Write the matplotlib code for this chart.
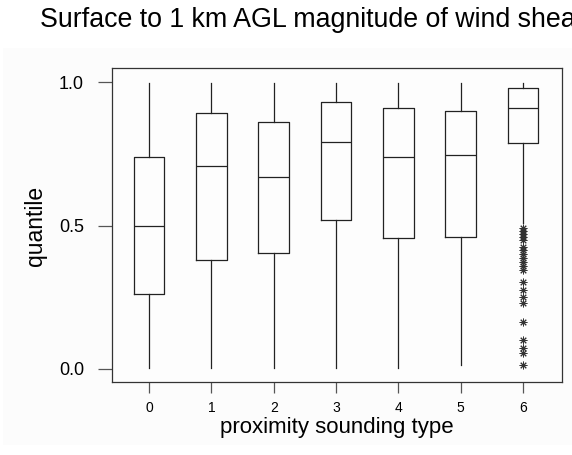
import matplotlib
matplotlib.use("Agg")
import matplotlib.pyplot as plt
from matplotlib.patches import Rectangle

plt.rcParams['font.family'] = ['Liberation Sans', 'DejaVu Sans']

# ---- data ----
categories = ["0", "1", "2", "3", "4", "5", "6"]
whisker_low = [0.003, 0.003, 0.003, 0.003, 0.003, 0.013, 0.508]
q1 = [0.260, 0.380, 0.403, 0.520, 0.455, 0.459, 0.787]
median = [0.500, 0.708, 0.668, 0.790, 0.739, 0.745, 0.908]
q3 = [0.740, 0.891, 0.860, 0.929, 0.908, 0.899, 0.979]
whisker_high = [0.995, 0.995, 0.995, 0.995, 0.995, 0.995, 0.995]
outliers_6 = [0.491, 0.481, 0.470, 0.460, 0.449, 0.425, 0.415, 0.401, 0.387,
              0.373, 0.359, 0.345, 0.303, 0.275, 0.251, 0.230, 0.164, 0.101,
              0.073, 0.056, 0.014]
outliers = [[], [], [], [], [], [], outliers_6]
yticks = [0.0, 0.5, 1.0]
ytick_labels = ["0.0", "0.5", "1.0"]
title = "Surface to 1 km AGL magnitude of wind shear"
xlabel = "proximity sounding type"
ylabel = "quantile"

W, H = 572, 455
fig = plt.figure(figsize=(W / 100, H / 100), dpi=100)
fig.patch.set_facecolor("white")

# faint grey panel behind the plot region
bg = Rectangle((3 / W, 1 - 445 / H), (W - 3) / W, (445 - 48) / H,
               transform=fig.transFigure, facecolor="#fcfcfc",
               edgecolor="none", zorder=-10)
fig.add_artist(bg)

ax = fig.add_axes([111.7 / W, 1 - 382 / H, (561.7 - 111.7) / W, (382 - 68) / H])
ax.set_zorder(5)
ax.set_facecolor("#fdfdfd")

stats = []
for i, c in enumerate(categories):
    stats.append(dict(label=c, whislo=whisker_low[i], q1=q1[i], med=median[i],
                      q3=q3[i], whishi=whisker_high[i], fliers=outliers[i]))

line_col = "#222222"
positions = list(range(len(categories)))
ax.bxp(stats, positions=positions, widths=0.49, showcaps=False,
       boxprops=dict(color=line_col, linewidth=0.9),
       medianprops=dict(color=line_col, linewidth=0.9),
       whiskerprops=dict(color=line_col, linewidth=0.9, linestyle="-"),
       flierprops=dict(marker=(8, 2, 0), markersize=5.5, markeredgewidth=0.7,
                       markeredgecolor="#333333", linestyle="none"))

ax.set_xlim(-0.6, 6.62)
ax.set_ylim(-0.0453, 1.0488)

ax.set_xticks(positions)
ax.set_xticklabels(categories, fontsize=10)
ax.set_yticks(yticks)
ax.set_yticklabels(ytick_labels, fontsize=13)
ax.tick_params(axis="x", length=8, width=0.9, color="#555555", pad=6)
ax.tick_params(axis="y", length=10, width=0.9, color="#555555", pad=10)

for s in ax.spines.values():
    s.set_color("#333333")
    s.set_linewidth(0.9)

fig.text(40 / W, 1 - 26.7 / H, title, fontsize=19.3, ha="left", va="baseline",
         zorder=6)
fig.text((111.7 + 561.7) / 2 / W, 1 - 428 / H, xlabel, fontsize=16,
         ha="center", va="center", zorder=6)
fig.text(35.5 / W, 1 - 225.5 / H, ylabel, fontsize=16.5, rotation=90,
         ha="center", va="center", zorder=6)

fig.savefig("out.png", dpi=100)
